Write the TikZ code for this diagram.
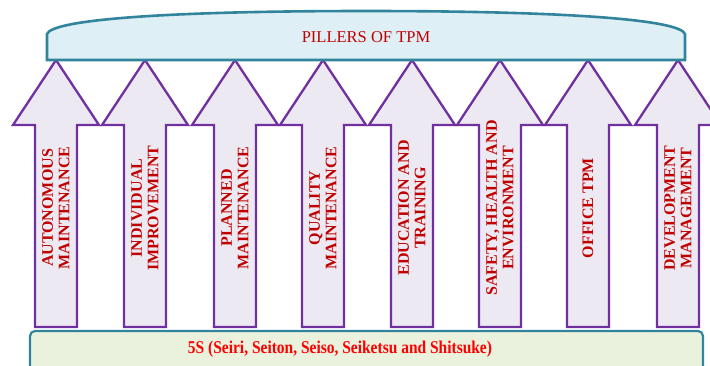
\documentclass[tikz,border=0pt]{standalone}
\usepackage{fontspec}
\setmainfont{Liberation Serif}
\usetikzlibrary{positioning}
\definecolor{tpmteal}{HTML}{31849B}
\definecolor{rooffill}{HTML}{DEEFF5}
\definecolor{basefill}{HTML}{EAF1DD}
\definecolor{tpmpurple}{HTML}{7030A0}
\definecolor{tpmlilac}{HTML}{EDE9F2}
\definecolor{tpmred}{HTML}{C00000}
\definecolor{tpmbright}{HTML}{FF0000}

\begin{document}
\begin{tikzpicture}[x=1pt,y=-1pt,
    pillar/.style={draw=tpmpurple,fill=tpmlilac,line width=2.3pt,line join=miter},
    lbl/.style={text=tpmred,font=\bfseries\fontsize{16}{16.5}\selectfont,align=center,rotate=90,inner sep=0pt}]
  \useasboundingbox (0,0) rectangle (710,365);
  \clip (0,0) rectangle (710,365);
  % pillars
  \foreach \cx in {56,145,235,323,412,500,588,678}
    \draw[pillar] (\cx,60) -- ++(43,65) -- ++(-22,0) -- ++(0,202) -- ++(-42,0)
      -- ++(0,-202) -- ++(-22,0) -- cycle;
  % roof
  \draw[fill=rooffill,draw=tpmteal,line width=2.6pt] (47,60) -- (47,34)
    .. controls (52,20) and (160,11) .. (366,11)
    .. controls (572,11) and (680,20) .. (685,34) -- (685,60) -- cycle;
  \node[text=tpmred,font=\fontsize{16.5}{18}\selectfont] (roof) at (366,37) {PILLERS OF TPM};
  % base
  \draw[fill=basefill,draw=tpmteal,line width=2.2pt,rounded corners=5pt] (30,331) rectangle (703,385);
  \node[text=tpmbright,font=\bfseries\fontsize{18}{20}\selectfont] (base) at (340,349)
    {\scalebox{0.86}[1]{5S (Seiri, Seiton, Seiso, Seiketsu and Shitsuke)}};
  % pillar labels
  \node[lbl] (am) at (56,208) {AUTONOMOUS\\MAINTENANCE};
  \node[lbl] (ii) at (145,208) {INDIVIDUAL\\IMPROVEMENT};
  \node[lbl] (pm) at (235,208) {PLANNED\\MAINTENANCE};
  \node[lbl] (qm) at (323,208) {QUALITY\\MAINTENANCE};
  \node[lbl] (et) at (412,208) {EDUCATION AND\\TRAINING};
  \node[lbl] (she) at (500,208) {SAFETY, HEALTH AND\\ENVIRONMENT};
  \node[lbl] (ot) at (588,208) {OFFICE TPM};
  \node[lbl] (dm) at (678,208) {DEVELOPMENT\\MANAGEMENT};
\end{tikzpicture}
\end{document}
